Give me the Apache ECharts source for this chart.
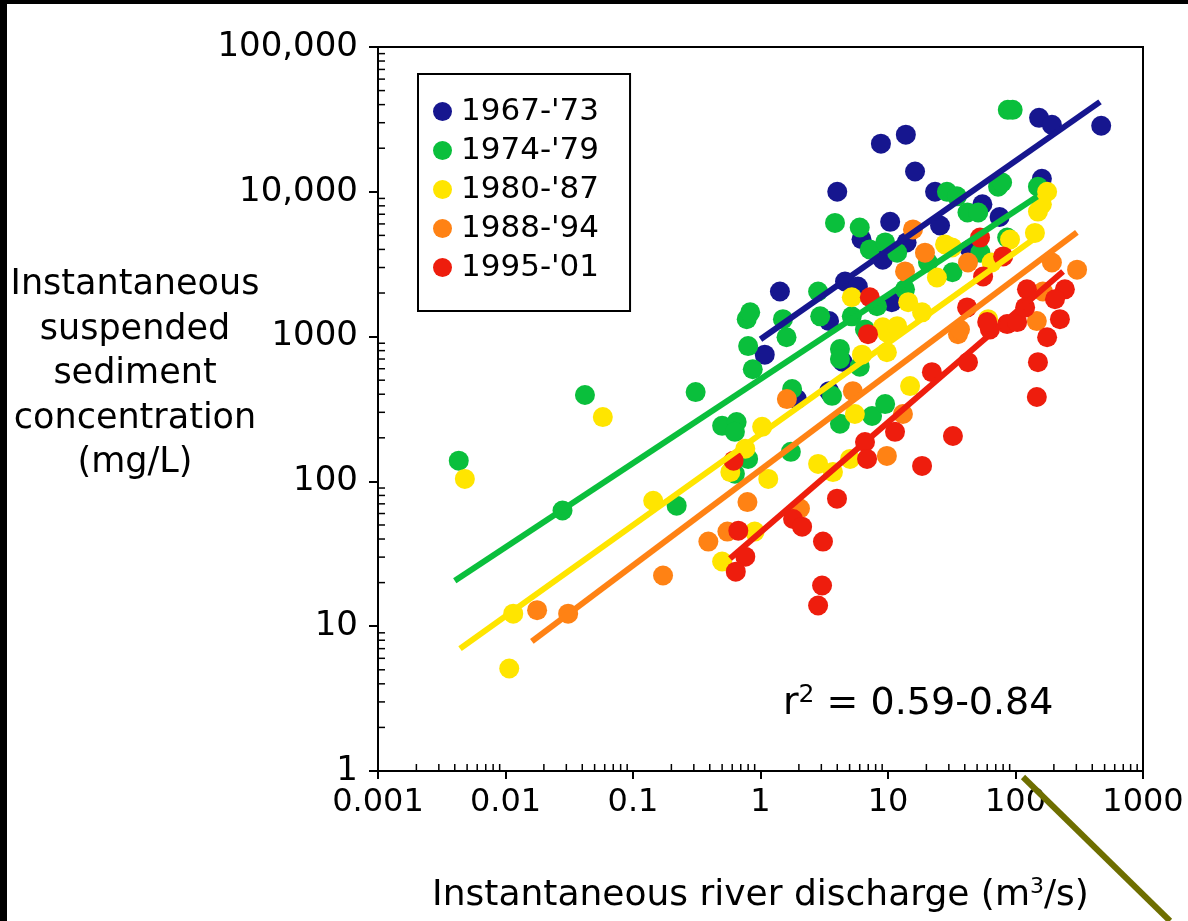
<!DOCTYPE html>
<html><head><meta charset="utf-8">
<script src="https://cdn.jsdelivr.net/npm/echarts@6/dist/echarts.min.js"></script>
<style>html,body{margin:0;padding:0;background:#fff}#c{width:1188px;height:921px}</style>
</head><body><div id="c"></div>
<script>
// ---- tick labels ----
const xTickLabels = ['0.001', '0.01', '0.1', '1', '10', '100', '1000'];
const yTickLabels = ['1', '10', '100', '1000', '10,000', '100,000'];
const xTitle = 'Instantaneous river discharge (m{sup|3}/s)';
const yTitleLines = ['Instantaneous', 'suspended', 'sediment', 'concentration', '(mg/L)'];
const r2Text = 'r{sup|2} = 0.59-0.84';

// ---- series: [discharge m3/s, concentration mg/L] ----
const seriesNames = ["1967-'73", "1974-'79", "1980-'87", "1988-'94", "1995-'01"];

const pts1967 = [[1.08,750],[1.42,2050],[1.93,370],[3.45,420],[3.45,1280],[4.0,10000],[4.4,670],[4.6,2400],
  [5.8,2220],[6.2,4700],[8.8,21500],[9.1,3400],[10.4,6200],[10.7,1730],[13.8,24800],[14,4470],[16.3,13800],
  [23.4,10000],[25.6,5850],[44,4000],[55,8200],[75,6700],[153,32400],[193,29000],[470,28600],[161,12300]];

const pts1974 = [[0.0043,139],[0.028,63],[0.042,395],[0.22,68],[0.31,414],[0.5,242],[0.65,257],[0.63,220],
  [0.8,143],[0.63,113],[0.78,1320],[0.8,860],[0.87,595],[0.83,1470],[1.5,1320],[1.6,990],[1.77,435],[1.73,160],
  [2.83,2050],[2.94,1380],[3.64,390],[3.84,6100],[4.2,820],[4.2,700],[4.2,250],[5.2,1380],[6.0,5670],[6.0,620],
  [6.6,1120],[7.2,4000],[7.5,283],[8.2,1620],[9.5,4470],[9.5,342],[11.8,3800],[13.6,2120],[20.6,3250],[29,10000],
  [34.7,9300],[32,2780],[42,7200],[51,7200],[53,3800],[73,10850],[78.5,11600],[86,4830],[87,36800],[95,36800],[150,10850]];

const pts1980 = [[0.0048,104],[0.0107,5.1],[0.0115,12.2],[0.058,278],[0.144,73.5],[0.5,28],[0.58,116],[0.76,168],
  [0.9,45],[1.03,238],[1.15,104],[2.83,132],[3.7,116],[5.04,143],[5.5,292],[6.25,750],[5.2,1870],[9.1,1160],
  [9.8,1070],[11.8,1180],[9.8,780],[14.4,1730],[18.5,1470],[14.9,455],[24.2,2560],[28,4330],[31.8,4130],[65,3250],
  [90.6,4680],[142,5200],[150,7300],[161,8200],[177,10000],[61,1320]];

const pts1988 = [[0.0177,12.9],[0.031,12.2],[0.172,22.4],[0.39,38.4],[0.55,45],[0.79,72],[2.04,65],[1.61,370],
  [5.3,420],[9.8,150],[13.1,292],[15.7,5500],[19.5,3800],[13.6,2820],[42.4,3250],[35.4,1040],[193,3250],[304,2900],
  [164,2050],[147,1280],[36.7,1120]];

const pts1995 = [[0.615,139],[0.67,45.7],[0.76,30.2],[0.64,23.8],[1.8,55],[2.12,48.7],[3.09,38.4],[3.04,19.1],
  [2.83,13.9],[3.98,76],[6.6,187],[6.85,143],[11.35,220],[18.5,128],[32.3,206],[6.97,1040],[7.2,1870],[22.1,568],
  [42.4,666],[63,1120],[86,1220],[103,1260],[177,990],[150,666],[147,383],[223,1320],[52.7,4830],[80,3580],
  [55.7,2600],[123,2120],[244,2120],[204,1810],[119,1590],[60,1260],[41.7,1590]];

// ---- regression lines (end points) ----
const fit1967 = [[1.0,960],[460,41800]];
const fit1974 = [[0.004,20.6],[148,9270]];
const fit1980 = [[0.0044,7.0],[148,4900]];
const fit1988 = [[0.0161,7.85],[303,5240]];
const fit1995 = [[0.577,29.3],[236,2820]];

const palette = ['#16168f', '#0abf3c', '#ffe500', '#ff8214', '#ee1d0d'];

const allPts = [pts1967, pts1974, pts1980, pts1988, pts1995];
const allFits = [fit1967, fit1974, fit1980, fit1988, fit1995];

// minor tick positions (axis decoration)
const xMinor = [], yMinor = [];
for (let k = -3; k < 3; k++) for (let m = 2; m <= 9; m++) xMinor.push(m * Math.pow(10, k));
for (let k = 0; k < 5; k++) for (let m = 2; m <= 9; m++) yMinor.push(m * Math.pow(10, k));
const X_MIN = 0.001, X_MAX = 1000, Y_MIN = 1, Y_MAX = 100000;

const FONT = 'DejaVu Sans';
const chart = echarts.init(document.getElementById('c'), null, {renderer: 'canvas'});

const series = [];
allPts.forEach((p, i) => {
  series.push({
    name: seriesNames[i], type: 'scatter', data: p, symbol: 'circle', symbolSize: 20,
    itemStyle: {color: palette[i], opacity: 1}, z: 2 + i * 0.1
  });
});
allFits.forEach((f, i) => {
  series.push({
    name: 'fit ' + seriesNames[i], type: 'line', data: f, showSymbol: false, symbol: 'none',
    lineStyle: {color: palette[i], width: 6}, z: 4, silent: true
  });
});
series.push({
  type: 'custom', silent: true, z: 6, clip: false,
  data: xMinor.map(v => [v, Y_MIN]),
  renderItem: (params, api) => {
    const p = api.coord([api.value(0), Y_MIN]);
    return {type: 'line', shape: {x1: p[0], y1: p[1], x2: p[0], y2: p[1] - 7}, style: {stroke: '#000', lineWidth: 1.5}};
  }
});
series.push({
  type: 'custom', silent: true, z: 6, clip: false,
  data: yMinor.map(v => [X_MIN, v]),
  renderItem: (params, api) => {
    const p = api.coord([X_MIN, api.value(1)]);
    return {type: 'line', shape: {x1: p[0], y1: p[1], x2: p[0] + 7, y2: p[1]}, style: {stroke: '#000', lineWidth: 1.5}};
  }
});

const option = {
  backgroundColor: '#fff',
  animation: false,
  textStyle: {fontFamily: FONT},
  grid: {left: 378, top: 47, right: 45, bottom: 148, show: true, borderColor: '#000', borderWidth: 2, containLabel: false},
  legend: {
    data: seriesNames, orient: 'vertical', left: 418, top: 74,
    icon: 'circle', itemWidth: 19, itemHeight: 19, itemGap: 8,
    padding: [22, 31, 28, 15],
    borderColor: '#000', borderWidth: 2, backgroundColor: '#fff',
    textStyle: {fontFamily: FONT, fontSize: 31, color: '#000', lineHeight: 31, padding: [0, 0, 0, 4]},
    selectedMode: false
  },
  xAxis: {
    type: 'log', logBase: 10, min: X_MIN, max: X_MAX, splitNumber: 6,
    axisLine: {show: true, onZero: false, lineStyle: {color: '#000', width: 2}},
    axisTick: {show: true, inside: false, length: 8, lineStyle: {color: '#000', width: 2}},
    minorTick: {show: false},
    splitLine: {show: false},
    axisLabel: {
      margin: 16, color: '#000', fontFamily: FONT, fontSize: 32,
      formatter: v => xTickLabels[Math.round(Math.log10(v)) + 3]
    },
    name: xTitle, nameLocation: 'middle', nameGap: 105,
    nameTextStyle: {
      fontFamily: FONT, fontSize: 36, color: '#000', lineHeight: 40,
      rich: {sup: {fontSize: 22, lineHeight: 22, verticalAlign: 'top', fontFamily: FONT, color: '#000'}}
    }
  },
  yAxis: {
    type: 'log', logBase: 10, min: Y_MIN, max: Y_MAX, splitNumber: 5,
    axisLine: {show: true, onZero: false, lineStyle: {color: '#000', width: 2}},
    axisTick: {show: true, inside: false, length: 9, lineStyle: {color: '#000', width: 2}},
    minorTick: {show: false},
    splitLine: {show: false},
    axisLabel: {
      margin: 20, color: '#000', fontFamily: FONT, fontSize: 34,
      formatter: v => yTickLabels[Math.round(Math.log10(v))]
    }
  },
  graphic: [
    {type: 'rect', shape: {x: 0, y: 0, width: 1188, height: 4}, style: {fill: '#000'}, z: 100},
    {type: 'rect', shape: {x: 0, y: 0, width: 7, height: 921}, style: {fill: '#000'}, z: 100},
    {type: 'line', shape: {x1: 1023, y1: 777, x2: 1170, y2: 921}, style: {stroke: '#6e6e00', lineWidth: 6}, z: 100},
    {
      type: 'text', x: 135, y: 374, z: 100,
      style: {
        text: yTitleLines.join('\n'), fontFamily: FONT, fontSize: 35, lineHeight: 44.5,
        fill: '#000', align: 'center', verticalAlign: 'middle'
      }
    },
    {
      type: 'text', x: 783, y: 704, z: 100,
      style: {
        text: r2Text, fontFamily: FONT, fontSize: 38, lineHeight: 42, fill: '#000',
        align: 'left', verticalAlign: 'middle',
        rich: {sup: {fontSize: 25, lineHeight: 25, verticalAlign: 'top', fontFamily: FONT, fill: '#000'}}
      }
    }
  ],
  series: series
};
chart.setOption(option);
</script>
</body></html>
